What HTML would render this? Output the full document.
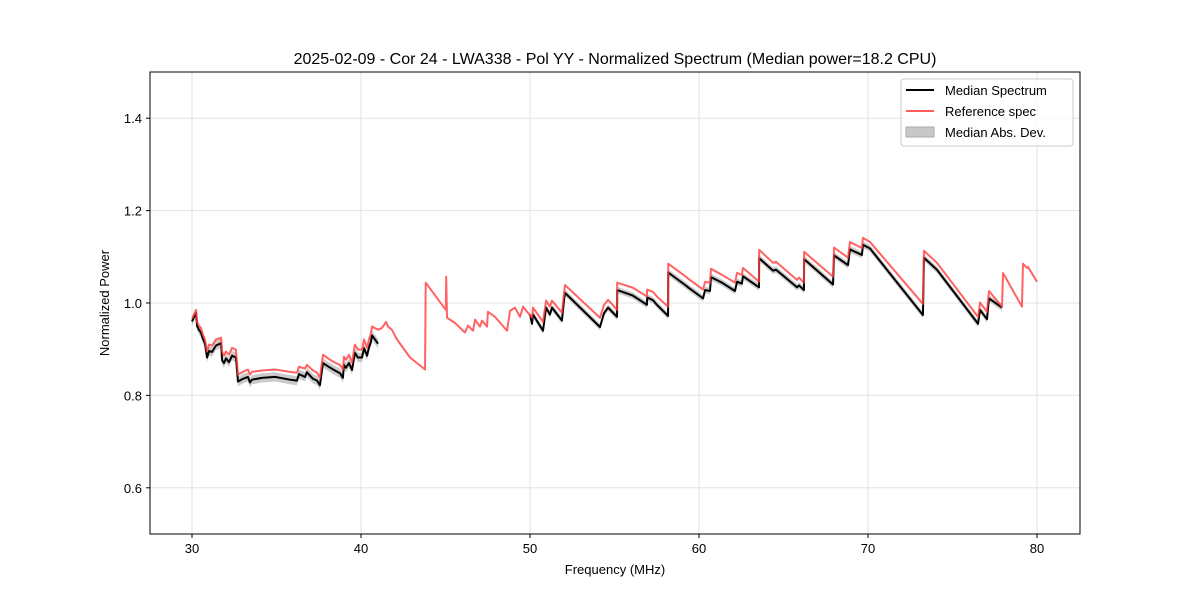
<!DOCTYPE html>
<html><head><meta charset="utf-8"><style>body{margin:0;background:#fff}svg{display:block;font-family:"Liberation Sans","DejaVu Sans",sans-serif}</style></head>
<body>
<svg id="chart" width="1200" height="600" viewBox="0 0 1200 600">
<rect width="1200" height="600" fill="#fff"/>
<text x="615" y="64" text-anchor="middle" font-size="16">2025-02-09 - Cor 24 - LWA338 - Pol YY - Normalized Spectrum (Median power=18.2 CPU)</text>
<g id="grid"></g><g id="marks"></g>
<rect x="150" y="72" width="930" height="462" fill="none" stroke="#000" stroke-width="1"/>
<g id="ticks"></g>
<text x="615" y="574" text-anchor="middle" font-size="13">Frequency (MHz)</text>
<text transform="translate(109,303) rotate(-90)" text-anchor="middle" font-size="13">Normalized Power</text>
<g>
<rect x="901" y="79" width="172" height="67" rx="3" fill="#fff" fill-opacity="0.8" stroke="#ccc"/>
<line x1="906" y1="90" x2="934" y2="90" stroke="#000" stroke-width="2"/><text x="945" y="95" font-size="13">Median Spectrum</text>
<line x1="906" y1="111" x2="934" y2="111" stroke="#ff5a5a" stroke-width="2"/><text x="945" y="116" font-size="13">Reference spec</text>
<rect x="906" y="127" width="28" height="10" fill="#c8c8c8" stroke="#aaa"/><text x="945" y="137" font-size="13">Median Abs. Dev.</text>
</g>
</svg>
<script>
const xTicks=[30,40,50,60,70,80];
const yTicks=[0.6,0.8,1.0,1.2,1.4];
const refFreq=[30.00,30.12,30.24,30.30,30.41,30.53,30.65,30.77,30.89,31.01,31.18,31.42,31.72,31.78,31.89,32.01,32.19,32.37,32.60,32.72,33.02,33.31,33.43,33.55,34.14,34.91,35.80,36.21,36.33,36.69,36.80,37.16,37.40,37.57,37.75,38.17,38.46,38.76,38.93,38.99,39.11,39.29,39.47,39.64,39.82,40.06,40.18,40.36,40.47,40.59,40.65,41.01,41.24,41.48,41.60,41.83,42.13,42.90,43.79,43.83,45.02,45.04,45.09,45.56,46.15,46.33,46.63,46.75,47.04,47.16,47.46,47.51,47.93,48.64,48.82,49.11,49.41,49.59,50.12,50.18,50.77,50.95,51.18,51.30,51.89,52.01,52.07,54.14,54.38,54.62,55.15,55.16,56.09,56.92,56.93,57.28,57.51,58.17,58.18,59.29,59.35,60.24,60.36,60.65,60.71,61.36,62.13,62.25,62.54,62.60,63.55,63.56,64.38,64.56,65.80,65.92,66.21,66.22,66.75,67.93,67.99,68.82,68.93,69.64,69.70,70.12,73.25,73.31,74.08,76.51,76.63,77.04,77.16,77.93,77.99,79.11,79.17,79.41,79.47,80.00];
const refPower=[.966,.975,.985,.959,.951,.946,.931,.921,.895,.910,.908,.921,.925,.895,.886,.895,.888,.903,.899,.845,.851,.856,.845,.851,.854,.856,.851,.849,.862,.858,.866,.854,.849,.838,.888,.877,.871,.866,.856,.884,.877,.888,.871,.910,.899,.899,.921,.903,.921,.934,.949,.942,.946,.959,.949,.942,.921,.882,.856,1.044,.985,1.057,.968,.957,.936,.951,.940,.964,.949,.962,.949,.981,.970,.940,.983,.990,.970,.992,.968,.990,.959,1.005,.992,1.005,.979,1.020,1.039,.968,.996,1.007,.985,1.044,1.033,1.014,1.029,1.024,1.014,.992,1.085,1.055,1.053,1.029,1.046,1.044,1.074,1.061,1.044,1.065,1.061,1.076,1.046,1.115,1.087,1.089,1.050,1.055,1.044,1.111,1.094,1.057,1.120,1.098,1.132,1.119,1.141,1.132,.998,1.113,1.087,.970,1.001,.981,1.026,.992,1.065,.992,1.085,1.076,1.078,1.046];
const medFreq1=[30.00,30.12,30.24,30.30,30.41,30.53,30.65,30.77,30.89,31.01,31.18,31.42,31.72,31.78,31.89,32.01,32.19,32.37,32.60,32.72,33.02,33.31,33.43,33.55,34.14,34.91,35.80,36.21,36.33,36.69,36.80,37.16,37.40,37.57,37.75,38.17,38.46,38.76,38.93,38.99,39.11,39.29,39.47,39.64,39.82,40.06,40.18,40.36,40.47,40.59,40.65,41.01];
const medPower1=[.960,.970,.978,.950,.942,.936,.922,.912,.882,.896,.894,.908,.913,.876,.870,.880,.872,.886,.882,.830,.836,.840,.828,.834,.838,.840,.834,.832,.846,.840,.850,.836,.832,.822,.870,.860,.854,.848,.838,.866,.860,.870,.855,.892,.882,.882,.902,.886,.904,.916,.930,.912];
const medFreq2=[50.00,50.12,50.18,50.77,50.95,51.18,51.30,51.89,52.01,52.07,54.14,54.38,54.62,55.15,55.16,56.09,56.92,56.93,57.28,57.51,58.17,58.18,59.29,59.35,60.24,60.36,60.65,60.71,61.36,62.13,62.25,62.54,62.60,63.55,63.56,64.38,64.56,65.80,65.92,66.21,66.22,66.75,67.93,67.99,68.82,68.93,69.64,69.70,70.12,73.25,73.31,74.08,76.51,76.63,77.04,77.16,77.93];
const medPower2=[.975,.955,.975,.940,.990,.975,.990,.962,1.005,1.022,.948,.978,.990,.970,1.028,1.016,.996,1.012,1.006,.996,.972,1.066,1.036,1.034,1.010,1.028,1.026,1.056,1.044,1.026,1.046,1.042,1.058,1.034,1.097,1.070,1.072,1.034,1.038,1.028,1.095,1.078,1.040,1.103,1.082,1.116,1.104,1.126,1.118,.974,1.098,1.072,.955,.985,.965,1.010,.990];
const madLevel=[0.010,0.007];

const X=f=>192+(f-30)*16.9, Y=v=>534-(v-0.5)*462;
const ns="http://www.w3.org/2000/svg";
const grid=document.getElementById('grid'),ticks=document.getElementById('ticks'),marks=document.getElementById('marks');
function mk(tag,attrs,parent){const e=document.createElementNS(ns,tag);for(const k in attrs)e.setAttribute(k,attrs[k]);parent.appendChild(e);return e;}
xTicks.forEach(t=>{const x=X(t);
 const g=mk('line',{x1:x,x2:x,y1:72,y2:534,stroke:'#e3e3e3','stroke-width':1},grid);
 
 
 mk('line',{x1:x,x2:x,y1:534,y2:538,stroke:'#000'},ticks);
 const l=mk('text',{x:x,y:553,'text-anchor':'middle','font-size':13},ticks);l.textContent=t;
 
 });
yTicks.forEach(t=>{const y=Y(t);
 const g=mk('line',{x1:150,x2:1080,y1:y,y2:y,stroke:'#e3e3e3','stroke-width':1},grid);
 
 
 mk('line',{x1:146,x2:150,y1:y,y2:y,stroke:'#000'},ticks);
 const l=mk('text',{x:142,y:y+5,'text-anchor':'end','font-size':13},ticks);l.textContent=t.toFixed(1);
 
 });
function band(fs,ps,m){let top=fs.map((f,i)=>X(f)+','+Y(ps[i]+m)),bot=fs.map((f,i)=>X(f)+','+Y(ps[i]-m)).reverse();
 const p=mk('polygon',{points:top.concat(bot).join(' '),fill:'#b4b4b4','fill-opacity':0.7},marks);
 
 }
band(medFreq1,medPower1,madLevel[0]);band(medFreq2,medPower2,madLevel[1]);
function line(fs,ps,c,name){const p=mk('polyline',{points:fs.map((f,i)=>X(f)+','+Y(ps[i])).join(' '),fill:'none',stroke:c,'stroke-width':2,'stroke-linejoin':'round'},marks);
 
 }
line(medFreq1,medPower1,'#000','median-spectrum-line');
line(medFreq2,medPower2,'#000','median-spectrum-line');
line(refFreq,refPower,'rgba(255,60,60,0.8)','reference-spectrum-line');
</script>
</body></html>
